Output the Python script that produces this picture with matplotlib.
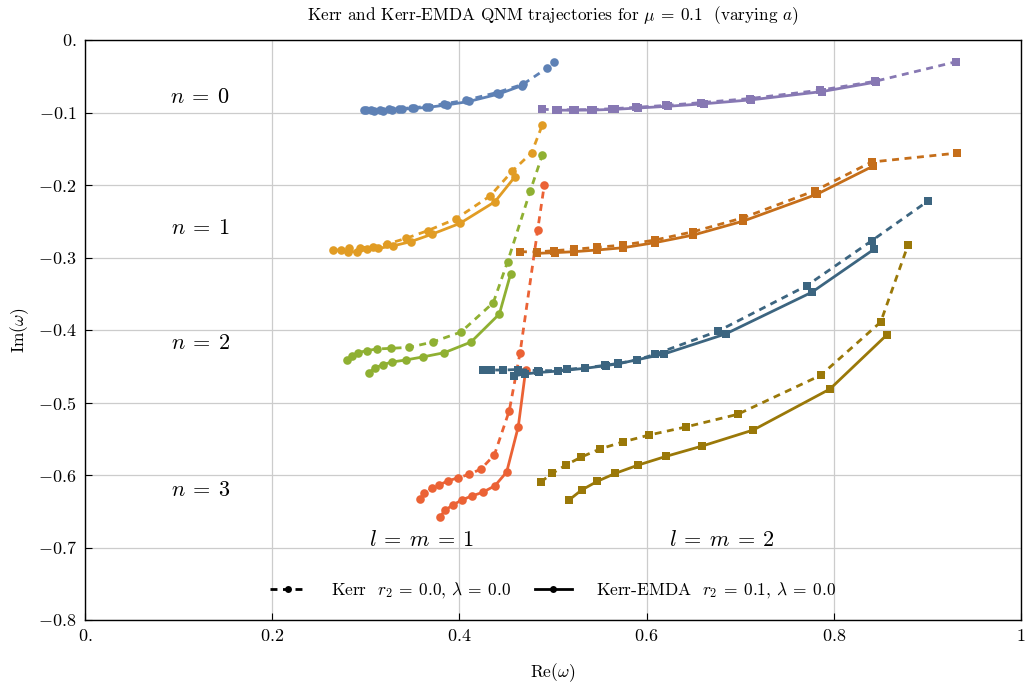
import matplotlib
matplotlib.use("Agg")
import matplotlib.pyplot as plt
from matplotlib.lines import Line2D

plt.rcParams.update({
    "font.family": "serif",
    "font.serif": ["cmr10"],
    "mathtext.fontset": "cm",
    "axes.unicode_minus": False,
    "axes.formatter.use_mathtext": True,
})

# ---- l = m = 1 trajectories (circles) ----
kerr_re_l1n0 = [0.298, 0.306, 0.315, 0.325, 0.336, 0.349, 0.364, 0.384, 0.407, 0.440, 0.468, 0.494, 0.501]
kerr_im_l1n0 = [-0.0966, -0.0972, -0.0968, -0.0958, -0.0948, -0.0935, -0.0918, -0.0880, -0.0830, -0.0725, -0.0610, -0.0385, -0.0305]
emda_re_l1n0 = [0.300, 0.309, 0.318, 0.328, 0.339, 0.352, 0.367, 0.387, 0.410, 0.442, 0.467]
emda_im_l1n0 = [-0.0968, -0.0978, -0.0975, -0.0965, -0.0955, -0.0942, -0.0928, -0.0895, -0.0848, -0.0745, -0.0628]

kerr_re_l1n1 = [0.2653, 0.2731, 0.2824, 0.2938, 0.3080, 0.3230, 0.3429, 0.3661, 0.3960, 0.4327, 0.4566, 0.4772, 0.4886]
kerr_im_l1n1 = [-0.2897, -0.2897, -0.2874, -0.2865, -0.2851, -0.2814, -0.2736, -0.2630, -0.2469, -0.2152, -0.1807, -0.1554, -0.1172]
emda_re_l1n1 = [0.2813, 0.2902, 0.3009, 0.3134, 0.3287, 0.3479, 0.3704, 0.4006, 0.4380, 0.4594]
emda_im_l1n1 = [-0.2920, -0.2920, -0.2887, -0.2874, -0.2841, -0.2782, -0.2680, -0.2529, -0.2230, -0.1885]

kerr_re_l1n2 = [0.2803, 0.2849, 0.2913, 0.3009, 0.3116, 0.3269, 0.3465, 0.3714, 0.4017, 0.4362, 0.4515, 0.4758, 0.4886]
kerr_im_l1n2 = [-0.4414, -0.4359, -0.4313, -0.4285, -0.4262, -0.4253, -0.4239, -0.4166, -0.4028, -0.3623, -0.3058, -0.2078, -0.1586]
emda_re_l1n2 = [0.3031, 0.3098, 0.3180, 0.3283, 0.3425, 0.3607, 0.3839, 0.4124, 0.4427, 0.4547]
emda_im_l1n2 = [-0.4589, -0.4524, -0.4478, -0.4441, -0.4414, -0.4372, -0.4313, -0.4166, -0.3779, -0.3228]

kerr_re_l1n3 = [0.3579, 0.3625, 0.3704, 0.3782, 0.3875, 0.3989, 0.4106, 0.4231, 0.4373, 0.4533, 0.4647, 0.4836, 0.4907]
kerr_im_l1n3 = [-0.6331, -0.6253, -0.6184, -0.6138, -0.6083, -0.6037, -0.5991, -0.5917, -0.5724, -0.5113, -0.4322, -0.2621, -0.2000]
emda_re_l1n3 = [0.3793, 0.3850, 0.3935, 0.4025, 0.4131, 0.4249, 0.4380, 0.4505, 0.4629, 0.4708]
emda_im_l1n3 = [-0.6575, -0.6483, -0.6410, -0.6345, -0.6290, -0.6239, -0.6148, -0.5959, -0.5334, -0.4552]

# ---- l = m = 2 trajectories (squares) ----
kerr_re_l2n0 = [0.488, 0.503, 0.521, 0.541, 0.563, 0.589, 0.621, 0.658, 0.710, 0.785, 0.844, 0.931]
kerr_im_l2n0 = [-0.0956, -0.0962, -0.0962, -0.0960, -0.0948, -0.0928, -0.0902, -0.0864, -0.0808, -0.0693, -0.0570, -0.0299]
emda_re_l2n0 = [0.505, 0.523, 0.543, 0.566, 0.591, 0.623, 0.661, 0.712, 0.787, 0.845]
emda_im_l2n0 = [-0.0968, -0.0968, -0.0966, -0.0956, -0.0938, -0.0914, -0.0880, -0.0825, -0.0712, -0.0580]

kerr_re_l2n1 = [0.4647, 0.4826, 0.5011, 0.5224, 0.5467, 0.5751, 0.6090, 0.6500, 0.7034, 0.7799, 0.8404, 0.9316]
kerr_im_l2n1 = [-0.2920, -0.2924, -0.2906, -0.2887, -0.2860, -0.2828, -0.2759, -0.2644, -0.2451, -0.2078, -0.1683, -0.1560]
emda_re_l2n1 = [0.4826, 0.5021, 0.5224, 0.5467, 0.5751, 0.6090, 0.6500, 0.7034, 0.7817, 0.8422]
emda_im_l2n1 = [-0.2943, -0.2933, -0.2920, -0.2897, -0.2865, -0.2795, -0.2690, -0.2497, -0.2129, -0.1738]

kerr_re_l2n2 = [0.4249, 0.4334, 0.4463, 0.4621, 0.4843, 0.5057, 0.5150, 0.5342, 0.5559, 0.5698, 0.5894, 0.6090, 0.6766, 0.7710, 0.8405, 0.9006]
kerr_im_l2n2 = [-0.4552, -0.4552, -0.4552, -0.4545, -0.4561, -0.4561, -0.4543, -0.4521, -0.4487, -0.4460, -0.4414, -0.4335, -0.4014, -0.3389, -0.2769, -0.2221]
emda_re_l2n2 = [0.4578, 0.4696, 0.4847, 0.5057, 0.5342, 0.5563, 0.5698, 0.6186, 0.6843, 0.7764, 0.8433]
emda_im_l2n2 = [-0.4634, -0.4607, -0.4586, -0.4566, -0.4528, -0.4492, -0.4466, -0.4331, -0.4055, -0.3480, -0.2883]

kerr_re_l2n3 = [0.4868, 0.4993, 0.5139, 0.5303, 0.5502, 0.5744, 0.6029, 0.6417, 0.6973, 0.7860, 0.8501, 0.8793]
kerr_im_l2n3 = [-0.6097, -0.5977, -0.5862, -0.5752, -0.5641, -0.5545, -0.5448, -0.5338, -0.5163, -0.4625, -0.3890, -0.2828]
emda_re_l2n3 = [0.5171, 0.5306, 0.5474, 0.5666, 0.5912, 0.6207, 0.6595, 0.7140, 0.7959, 0.8565]
emda_im_l2n3 = [-0.6345, -0.6207, -0.6087, -0.5977, -0.5862, -0.5743, -0.5600, -0.5379, -0.4814, -0.4069]

colors_l1 = ["#5e81b5", "#e19c24", "#8fb032", "#eb6235"]
colors_l2 = ["#8778b3", "#c56e1a", "#3c6580", "#9a7808"]

x_ticks = [0.0, 0.2, 0.4, 0.6, 0.8, 1.0]
x_ticklabels = [r"$0.$", r"$0.2$", r"$0.4$", r"$0.6$", r"$0.8$", r"$1$"]
y_ticks = [0.0, -0.1, -0.2, -0.3, -0.4, -0.5, -0.6, -0.7, -0.8]
y_ticklabels = [r"$0.$", r"$-0.1$", r"$-0.2$", r"$-0.3$", r"$-0.4$",
                r"$-0.5$", r"$-0.6$", r"$-0.7$", r"$-0.8$"]

n_labels = [r"$n\:=\:0$", r"$n\:=\:1$", r"$n\:=\:2$", r"$n\:=\:3$"]
n_label_im = [-0.079, -0.259, -0.418, -0.621]

fig = plt.figure(figsize=(10.27, 6.85), dpi=100)
ax = fig.add_axes([85 / 1027, 1 - 620 / 685, 936 / 1027, 580 / 685])

dash = (0, (2.5, 2.0))
lw = 2.0

l1_sets = [
    (kerr_re_l1n0, kerr_im_l1n0, emda_re_l1n0, emda_im_l1n0),
    (kerr_re_l1n1, kerr_im_l1n1, emda_re_l1n1, emda_im_l1n1),
    (kerr_re_l1n2, kerr_im_l1n2, emda_re_l1n2, emda_im_l1n2),
    (kerr_re_l1n3, kerr_im_l1n3, emda_re_l1n3, emda_im_l1n3),
]
l2_sets = [
    (kerr_re_l2n0, kerr_im_l2n0, emda_re_l2n0, emda_im_l2n0),
    (kerr_re_l2n1, kerr_im_l2n1, emda_re_l2n1, emda_im_l2n1),
    (kerr_re_l2n2, kerr_im_l2n2, emda_re_l2n2, emda_im_l2n2),
    (kerr_re_l2n3, kerr_im_l2n3, emda_re_l2n3, emda_im_l2n3),
]

for (kr, ki, er, ei), c in zip(l1_sets, colors_l1):
    ax.plot(kr, ki, ls=dash, lw=lw, color=c, marker="o", ms=6.2, mew=0)
    ax.plot(er, ei, ls="-", lw=lw, color=c, marker="o", ms=6.2, mew=0)

for (kr, ki, er, ei), c in zip(l2_sets, colors_l2):
    ax.plot(kr, ki, ls=dash, lw=lw, color=c, marker="s", ms=5.4, mew=0)
    ax.plot(er, ei, ls="-", lw=lw, color=c, marker="s", ms=5.4, mew=0)

ax.set_xlim(0, 1)
ax.set_ylim(-0.8, 0)
ax.set_xticks(x_ticks)
ax.set_xticklabels(x_ticklabels)
ax.set_yticks(y_ticks)
ax.set_yticklabels(y_ticklabels)
ax.minorticks_off()
ax.tick_params(direction="in", length=5, width=0.8, labelsize=13, pad=6,
               top=False, right=False)
ax.grid(True, color="#cccccc", lw=0.9)
ax.set_axisbelow(True)
for sp in ax.spines.values():
    sp.set_linewidth(1.0)
    sp.set_color("black")

for lab, yv in zip(n_labels, n_label_im):
    ax.text(0.123, yv, lab, fontsize=16, ha="center", va="center")
ax.text(0.36, -0.690, r"$l\:=\:m\:=\:1$", fontsize=16, ha="center", va="center")
ax.text(0.68, -0.690, r"$l\:=\:m\:=\:2$", fontsize=16, ha="center", va="center")

ax.set_xlabel(r"Re$(\omega)$", fontsize=12.5, labelpad=12)
ax.set_ylabel(r"Im$(\omega)$", fontsize=12.5, labelpad=5)
ax.set_title(r"Kerr and Kerr-EMDA QNM trajectories for $\mu\:=\:0.1$  (varying $a$)",
             fontsize=12.4, pad=14)

handles = [
    Line2D([], [], color="black", ls=dash, lw=lw, marker="o", ms=5, mew=0),
    Line2D([], [], color="black", ls="-", lw=lw, marker="o", ms=5, mew=0),
]
labels = [r"Kerr  $r_2\:=\:0.0,\,\lambda\:=\:0.0$",
          r"Kerr-EMDA  $r_2\:=\:0.1,\,\lambda\:=\:0.0$"]
ax.legend(handles, labels, loc="center", bbox_to_anchor=(0.5, 0.05), ncol=2,
          frameon=False, fontsize=12.5, handlelength=2.1, handletextpad=1.4,
          columnspacing=1.4)

fig.savefig("out.png", dpi=100)
